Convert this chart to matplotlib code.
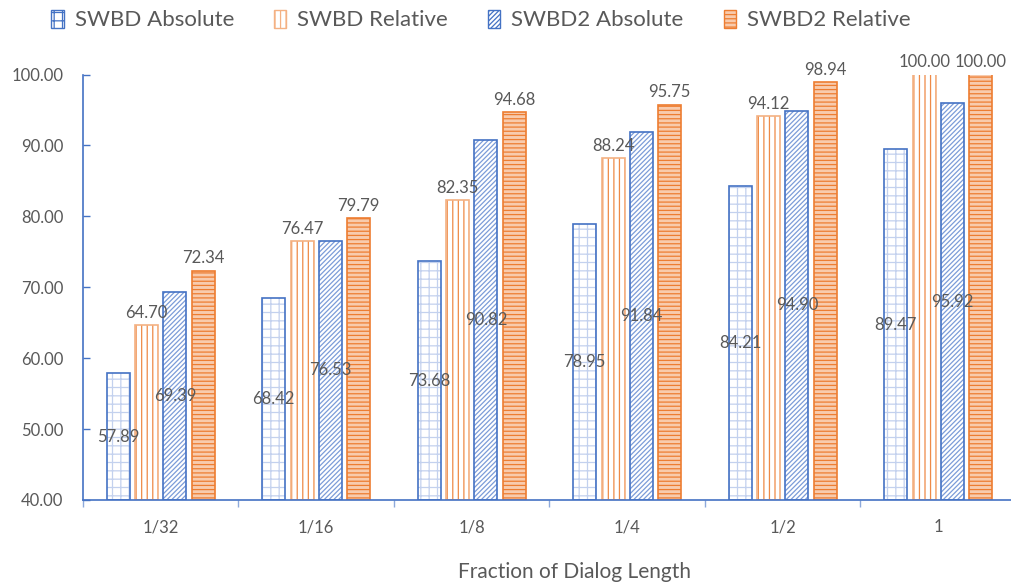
import numpy as np
import matplotlib
matplotlib.use("Agg")
import matplotlib.pyplot as plt
from matplotlib.patches import Patch

# data
categories = ['1/32', '1/16', '1/8', '1/4', '1/2', '1']
swbd_abs = [57.89, 68.42, 73.68, 78.95, 84.21, 89.47]
swbd_rel = [64.70, 76.47, 82.35, 88.24, 94.12, 100.00]
swbd2_abs = [69.39, 76.53, 90.82, 91.84, 94.90, 95.92]
swbd2_rel = [72.34, 79.79, 94.68, 95.75, 98.94, 100.00]
series_names = ['SWBD Absolute', 'SWBD Relative', 'SWBD2 Absolute', 'SWBD2 Relative']

plt.rcParams['font.family'] = ['Lato', 'DejaVu Sans']
plt.rcParams['hatch.linewidth'] = 0.9

blue = '#4472C4'
orange = '#ED7D31'
grey = '#595959'

# (facecolor, hatch, hatch colour, edge colour)
styles = [
    ('white', '++', '#C3D1EE', blue),
    ('white', '|||', '#EE8A46', '#F4B183'),
    ('white', '///////', '#7C9CD8', blue),
    ('#F8CBAD', '----', orange, orange),
]

fig = plt.figure(figsize=(10.12, 5.85), dpi=100)
ax = fig.add_axes([83 / 1012, 1 - 500 / 585, 933 / 1012, 425.5 / 585])

x = np.arange(len(categories))
width = 0.148
pitch = 0.182
all_series = [swbd_abs, swbd_rel, swbd2_abs, swbd2_rel]
bottom = 40

for i, vals in enumerate(all_series):
    fc, hatch, hc, ec = styles[i]
    pos = x + (i - 1.5) * pitch
    heights = np.array(vals) - bottom
    # hatched fill first, then the outline on top
    ax.bar(pos, heights, width, bottom=bottom, facecolor=fc, hatch=hatch,
           edgecolor=hc, linewidth=0)
    ax.bar(pos, heights, width, bottom=bottom, facecolor='none',
           edgecolor=ec, linewidth=1.2)
    for p, v in zip(pos, vals):
        if i in (0, 2):
            # absolute values sit in the middle of the bar
            ax.text(p, (bottom + v) / 2, f'{v:.2f}', ha='center', va='center',
                    fontsize=12, color=grey)
        else:
            ax.annotate(f'{v:.2f}', (p, v), xytext=(0, 3), textcoords='offset points',
                        ha='center', va='bottom', fontsize=12, color=grey,
                        annotation_clip=False)

ax.set_xlim(-0.5, len(categories) - 0.5)
ax.set_ylim(40, 100)
ax.set_yticks(np.arange(40, 101, 10))
ax.set_yticklabels([f'{v:.2f}' for v in np.arange(40, 101, 10)])

# category boundaries get the tick marks, labels go in the middle
ax.set_xticks(np.arange(-0.5, len(categories), 1.0))
ax.set_xticklabels([])
ax.set_xticks(x, minor=True)
ax.set_xticklabels(categories, minor=True)
ax.tick_params(axis='x', which='major', direction='out', length=5, color='#8EA9DB', width=1)
ax.tick_params(axis='x', which='minor', length=0, pad=14, labelsize=12, labelcolor=grey)
ax.tick_params(axis='y', direction='in', length=5, color=blue, width=1,
               pad=14, labelsize=12, labelcolor=grey)

for side in ['top', 'right']:
    ax.spines[side].set_visible(False)
for side in ['left', 'bottom']:
    ax.spines[side].set_color(blue)
    ax.spines[side].set_linewidth(1.2)

fig.text(575 / 1012, 1 - 572 / 585, 'Fraction of Dialog Length', ha='center', va='center',
         fontsize=15, color=grey)

handles = [Patch(facecolor=styles[i][0], hatch=styles[i][1], edgecolor=styles[i][3],
                 linewidth=1) for i in range(4)]
fig.legend(handles, series_names, loc='center', bbox_to_anchor=(481 / 1012, 1 - 20 / 585),
           ncol=4, frameon=False, fontsize=16, labelcolor=grey, handlelength=0.55,
           handleheight=0.9, handletextpad=0.5, columnspacing=1.8)

fig.savefig('out.png', dpi=100)
